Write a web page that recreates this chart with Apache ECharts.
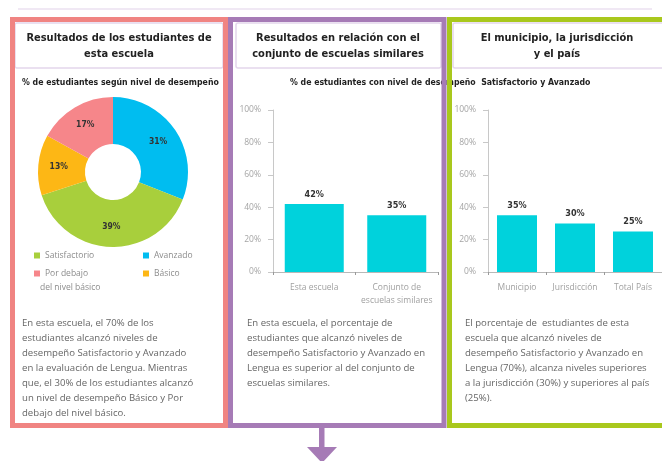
<!DOCTYPE html>
<html>
<head>
<meta charset="utf-8">
<script src="https://cdn.jsdelivr.net/npm/echarts@6/dist/echarts.min.js"></script>
<style>
  html, body { margin: 0; padding: 0; background: #fff; }
  #main { width: 662px; height: 461px; }
</style>
</head>
<body>
<div id="main"></div>
<script>
// datos
var nivelesPie = ['Avanzado', 'Satisfactorio', 'Básico', 'Por debajo del nivel básico'];
var valoresPie = [31, 39, 13, 17];

var categoriasSimilares = ['Esta escuela', 'Conjunto de\nescuelas similares'];
var valoresSimilares = [42, 35];

var categoriasTerritorio = ['Municipio', 'Jurisdicción', 'Total País'];
var valoresTerritorio = [35, 30, 25];

var coloresPie = ['#00BDF0', '#A8CF3C', '#FDB715', '#F6868A'];
var colorBarra = '#00D2DC';

var fuenteAngosta = '"Liberation Sans Narrow", "DejaVu Sans Condensed", "Arial Narrow", sans-serif';
var fuenteTexto = '"Open Sans", "Lato", sans-serif';

function graficoResultados() {
    var chartDom = document.getElementById('main');
    var miChart = echarts.init(chartDom);
    var option;

    function ejeY(gridIndex) {
        return {
            type: 'value',
            gridIndex: gridIndex,
            min: 0,
            max: 100,
            interval: 20,
            axisLine: { show: true, lineStyle: { color: '#C8C8C8', width: 1 } },
            axisTick: { show: true, length: 5, lineStyle: { color: '#C8C8C8' } },
            splitLine: { show: false },
            axisLabel: {
                formatter: '{value}%',
                color: '#A5A5A5',
                fontSize: 8.5,
                fontFamily: fuenteTexto,
                margin: 12
            }
        };
    }

    function ejeX(gridIndex, categorias) {
        return {
            type: 'category',
            gridIndex: gridIndex,
            data: categorias,
            axisLine: { show: true, lineStyle: { color: '#B8B8B8', width: 1 } },
            axisTick: { show: true, length: 3, lineStyle: { color: '#999' } },
            axisLabel: {
                color: '#A0A0A0',
                fontSize: 8.5,
                fontFamily: fuenteTexto,
                lineHeight: 13,
                margin: 9,
                interval: 0
            }
        };
    }

    function etiquetaBarra() {
        return {
            show: true,
            position: 'top',
            distance: 5,
            formatter: '{c}%',
            color: '#333',
            fontSize: 9,
            fontWeight: 'bold',
            fontFamily: fuenteAngosta
        };
    }

    function titulo(x, y, texto) {
        return {
            type: 'text',
            x: x,
            y: y,
            z: 20,
            style: {
                text: texto,
                fill: '#222',
                font: 'bold 11px ' + fuenteAngosta,
                align: 'center',
                verticalAlign: 'middle',
                lineHeight: 16
            }
        };
    }

    function parrafo(x, texto) {
        return {
            type: 'text',
            x: x,
            y: 316,
            z: 20,
            style: {
                text: texto,
                fill: '#666',
                font: '9.6px ' + fuenteTexto,
                lineHeight: 15
            }
        };
    }

    function caja(x, ancho) {
        return {
            type: 'rect',
            z: 15,
            shape: { x: x, y: 23, width: ancho, height: 45, r: 2 },
            style: { fill: '#fff', stroke: '#E4D6EC', lineWidth: 1.5 }
        };
    }

    function marco(x, ancho, color) {
        return {
            type: 'rect',
            z: 30,
            shape: { x: x, y: 19.5, width: ancho, height: 406 },
            style: { fill: 'none', stroke: color, lineWidth: 5 }
        };
    }

    function leyenda(nombre, left, top) {
        return {
            data: [nombre],
            left: left,
            top: top,
            icon: 'rect',
            itemWidth: 6,
            itemHeight: 6,
            itemGap: 0,
            padding: 0,
            formatter: function (n) {
                return n === 'Por debajo del nivel básico' ? 'Por debajo' : n;
            },
            textStyle: { color: '#8C8C8C', fontSize: 8.5, fontFamily: fuenteTexto }
        };
    }

    option = {
        animation: false,
        color: coloresPie,
        legend: [
            leyenda('Satisfactorio', 34, 251),
            leyenda('Avanzado', 143, 251),
            leyenda('Por debajo del nivel básico', 34, 269),
            leyenda('Básico', 143, 269)
        ],
        grid: [
            { left: 273, top: 110, width: 165, height: 162 },
            { left: 488, top: 110, width: 174, height: 162 }
        ],
        xAxis: [
            ejeX(0, categoriasSimilares),
            ejeX(1, categoriasTerritorio)
        ],
        yAxis: [
            ejeY(0),
            ejeY(1)
        ],
        series: [
            {
                type: 'pie',
                center: [113, 172],
                radius: [28, 75],
                startAngle: 90,
                clockwise: true,
                avoidLabelOverlap: false,
                label: {
                    show: true,
                    position: 'inside',
                    formatter: '{c}%',
                    color: '#333',
                    fontSize: 8.5,
                    fontWeight: 'bold',
                    fontFamily: fuenteAngosta
                },
                labelLine: { show: false },
                itemStyle: { borderWidth: 0 },
                data: nivelesPie.map(function (n, i) {
                    return { name: n, value: valoresPie[i] };
                })
            },
            {
                type: 'bar',
                xAxisIndex: 0,
                yAxisIndex: 0,
                barWidth: 59,
                itemStyle: { color: colorBarra },
                label: etiquetaBarra(),
                data: valoresSimilares
            },
            {
                type: 'bar',
                xAxisIndex: 1,
                yAxisIndex: 1,
                barWidth: 40,
                itemStyle: { color: colorBarra },
                label: etiquetaBarra(),
                data: valoresTerritorio
            }
        ],
        graphic: [
            // linea superior
            {
                type: 'line',
                shape: { x1: 18, y1: 9, x2: 652, y2: 9 },
                style: { stroke: '#EBE0F0', lineWidth: 1.5 }
            },
            caja(15, 208),
            caja(236, 205),
            caja(453, 215),
            titulo(119, 46, 'Resultados de los estudiantes de\nesta escuela'),
            titulo(338, 46, 'Resultados en relación con el\nconjunto de escuelas similares'),
            titulo(557, 46, 'El municipio, la jurisdicción\ny el país'),
            {
                type: 'text',
                x: 22,
                y: 83,
                z: 20,
                style: {
                    text: '% de estudiantes según nivel de desempeño',
                    fill: '#222',
                    font: 'bold 8.7px ' + fuenteAngosta,
                    verticalAlign: 'middle'
                }
            },
            {
                type: 'text',
                x: 290,
                y: 83,
                z: 20,
                style: {
                    text: '% de estudiantes con nivel de desempeño  Satisfactorio y Avanzado',
                    fill: '#222',
                    font: 'bold 8.7px ' + fuenteAngosta,
                    verticalAlign: 'middle'
                }
            },
            {
                type: 'text',
                x: 40,
                y: 288,
                z: 20,
                style: {
                    text: 'del nivel básico',
                    fill: '#8C8C8C',
                    font: '8.5px ' + fuenteTexto,
                    verticalAlign: 'middle'
                }
            },
            parrafo(22, 'En esta escuela, el 70% de los\nestudiantes alcanzó niveles de\ndesempeño Satisfactorio y Avanzado\nen la evaluación de Lengua. Mientras\nque, el 30% de los estudiantes alcanzó\nun nivel de desempeño Básico y Por\ndebajo del nivel básico.'),
            parrafo(247, 'En esta escuela, el porcentaje de\nestudiantes que alcanzó niveles de\ndesempeño Satisfactorio y Avanzado en\nLengua es superior al del conjunto de\nescuelas similares.'),
            parrafo(465, 'El porcentaje de  estudiantes de esta\nescuela que alcanzó niveles de\ndesempeño Satisfactorio y Avanzado en\nLengua (70%), alcanza niveles superiores\na la jurisdicción (30%) y superiores al país\n(25%).'),
            marco(12.5, 213, '#F08482'),
            marco(449.5, 230, '#A9C81D'),
            marco(230.5, 213.5, '#A67BB6'),
            // flecha
            {
                type: 'rect',
                z: 30,
                shape: { x: 319, y: 427, width: 5.5, height: 21 },
                style: { fill: '#A67BB6' }
            },
            {
                type: 'polygon',
                z: 30,
                shape: { points: [[307, 447], [337, 447], [322, 463]] },
                style: { fill: '#A67BB6' }
            }
        ]
    };

    option && miChart.setOption(option);
}

graficoResultados();
</script>
</body>
</html>
